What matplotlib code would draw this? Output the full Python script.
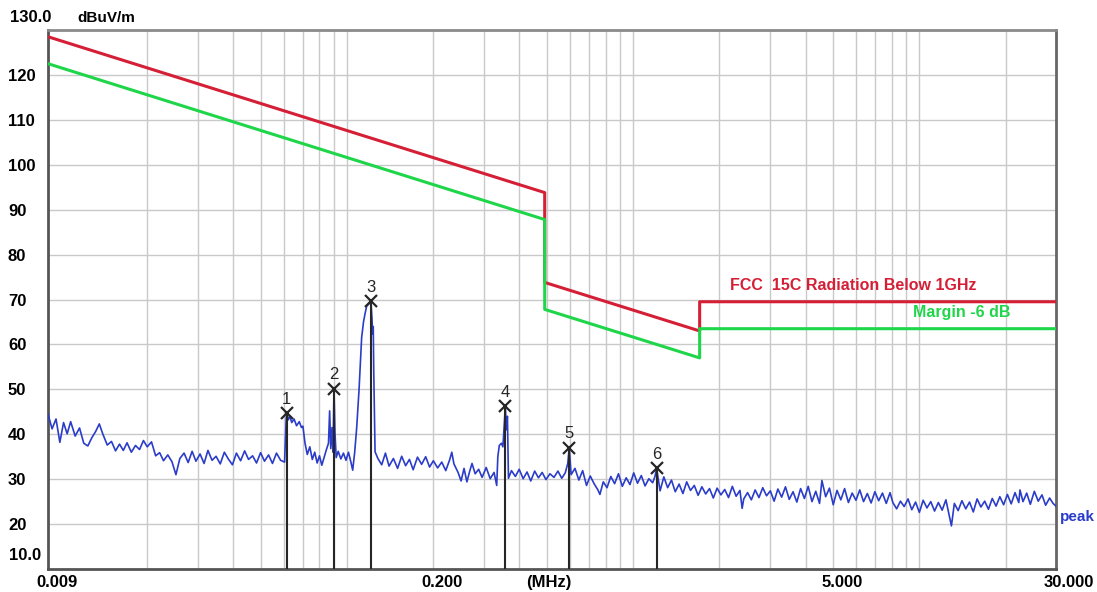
import matplotlib
matplotlib.use("Agg")
import matplotlib.pyplot as plt

# ---------------------------------------------------------------------------
# data (frequency in MHz, level in dBuV/m)
# ---------------------------------------------------------------------------
limit_freq = [0.009, 0.49, 0.49, 1.705, 1.705, 30.0]
limit_level = [128.5, 93.8, 73.8, 63.0, 69.5, 69.5]
margin_db = 6.0

trace_freq = [
    0.0090, 0.0093, 0.0096, 0.0099, 0.0102, 0.0105, 0.0108, 0.0112, 0.0116, 0.0120,
    0.0124, 0.0128, 0.0132, 0.0136, 0.0140, 0.0145, 0.0150, 0.0155, 0.0160, 0.0165,
    0.0170, 0.0176, 0.0182, 0.0188, 0.0194, 0.0200, 0.0207, 0.0214, 0.0221, 0.0228,
    0.0236, 0.0244, 0.0252, 0.0260, 0.0269, 0.0278, 0.0287, 0.0296, 0.0306, 0.0316,
    0.0326, 0.0337, 0.0348, 0.0360, 0.0372, 0.0384, 0.0397, 0.0410, 0.0424, 0.0438,
    0.0452, 0.0467, 0.0482, 0.0498, 0.0514, 0.0531, 0.0548, 0.0566, 0.0585, 0.0604,
    0.0612, 0.0615, 0.0622, 0.0630, 0.0640, 0.0652, 0.0665, 0.0680, 0.0692, 0.0700,
    0.0712, 0.0725, 0.0740, 0.0755, 0.0770, 0.0785, 0.0800, 0.0815, 0.0830, 0.0845,
    0.0860, 0.0868, 0.0876, 0.0885, 0.0892, 0.0899, 0.0906, 0.0915, 0.0930, 0.0950,
    0.0970, 0.0990, 0.1010, 0.1030, 0.1045, 0.1062, 0.1079, 0.1100, 0.1123, 0.1140,
    0.1153, 0.1169, 0.1190, 0.1210, 0.1220, 0.1227, 0.1233, 0.1238, 0.1251, 0.128,
    0.132, 0.136, 0.140, 0.145, 0.150, 0.155, 0.160, 0.165, 0.170, 0.176,
    0.182, 0.188, 0.194, 0.200, 0.207, 0.214, 0.221, 0.228, 0.232, 0.236,
    0.244, 0.250, 0.256, 0.262, 0.268, 0.273, 0.280, 0.288, 0.296, 0.306,
    0.316, 0.326, 0.333, 0.336, 0.340, 0.346, 0.350, 0.354, 0.357, 0.360,
    0.363, 0.366, 0.375, 0.387, 0.399, 0.412, 0.425, 0.438, 0.452, 0.466,
    0.480, 0.495, 0.511, 0.528, 0.545, 0.562, 0.578, 0.590, 0.597, 0.606,
    0.625, 0.645, 0.665, 0.686, 0.707, 0.729, 0.752, 0.764, 0.785, 0.809,
    0.834, 0.860, 0.887, 0.915, 0.944, 0.973, 1.003, 1.034, 1.066, 1.099,
    1.133, 1.168, 1.190, 1.206, 1.222, 1.240, 1.278, 1.318, 1.359, 1.401,
    1.445, 1.490, 1.536, 1.584, 1.633, 1.684, 1.736, 1.790, 1.846, 1.903,
    1.962, 2.023, 2.086, 2.151, 2.218, 2.287, 2.358, 2.400, 2.431, 2.507,
    2.585, 2.665, 2.748, 2.833, 2.921, 3.011, 3.104, 3.200, 3.299, 3.401,
    3.506, 3.615, 3.727, 3.842, 3.961, 4.084, 4.210, 4.340, 4.474, 4.560,
    4.700, 4.846, 4.996, 5.150, 5.310, 5.474, 5.644, 5.818, 5.998, 6.184,
    6.375, 6.572, 6.776, 6.985, 7.201, 7.424, 7.654, 7.890, 8.070, 8.32,
    8.58, 8.84, 9.12, 9.40, 9.69, 9.99, 10.30, 10.62, 10.95, 11.29,
    11.64, 12.00, 12.37, 12.62, 12.93, 13.24, 13.65, 14.07, 14.51, 14.96,
    15.42, 15.90, 16.39, 16.90, 17.42, 17.96, 18.52, 19.09, 19.68, 20.29,
    20.92, 21.57, 22.24, 22.45, 23.0, 23.7, 24.4, 25.2, 26.0, 26.8,
    27.6, 28.5, 29.3, 30.0,
]
trace_level = [
    44.5, 41.2, 43.4, 38.2, 42.6, 40.1, 42.8, 39.6, 41.4, 38.0,
    37.4, 39.2, 40.6, 42.3, 40.0, 37.6, 38.4, 36.3, 37.8, 36.4,
    38.1, 36.0, 37.5, 36.6, 38.6, 37.2, 38.3, 35.2, 35.9, 34.1,
    35.4, 33.9, 31.0, 34.6, 35.8, 33.7, 36.2, 34.0, 35.6, 33.5,
    36.4, 34.2, 35.1, 33.4, 36.0, 34.5, 33.2, 35.8, 34.1, 36.3,
    34.4, 35.2, 33.6, 35.9, 34.0, 35.4, 33.5, 35.8, 34.2, 33.8,
    43.5, 44.7, 43.2, 44.0, 42.6, 43.4, 41.9, 42.8, 41.5, 41.8,
    38.0, 35.5, 37.2, 34.4, 36.0, 33.6, 35.2, 33.1, 34.8, 36.5,
    38.0, 45.2, 36.8, 41.5, 36.0, 50.1, 40.5, 34.8, 36.2, 34.5,
    35.8, 34.2, 36.0, 33.8, 32.0, 36.0, 41.4, 50.0, 61.5, 65.0,
    66.7, 68.5, 69.0, 69.6, 66.0, 62.3, 64.0, 54.0, 36.1, 34.6,
    33.2, 35.8, 32.9, 34.6, 32.4, 35.1, 33.0, 34.4, 32.1, 34.9,
    33.3, 35.0, 32.7, 34.1, 32.5, 33.8, 31.9, 34.3, 36.0, 33.4,
    31.5, 29.6, 32.4, 29.4, 31.8, 33.5, 31.2, 32.2, 30.4, 32.6,
    30.1, 31.5, 28.6, 35.0, 37.5, 38.0, 37.2, 42.5, 46.2, 41.0,
    44.0, 30.2, 31.9, 30.6, 32.2, 30.1, 31.6, 29.6, 31.8, 30.3,
    31.5, 29.9, 31.2, 30.4, 31.8, 30.2, 31.4, 33.5, 37.0, 31.0,
    32.4, 29.8, 31.9, 28.6, 30.7, 29.0, 27.6, 26.6, 29.4, 28.1,
    30.6, 29.0, 31.2, 28.4, 30.3, 28.8, 31.4, 29.1, 30.8, 28.5,
    30.1, 29.2, 30.6, 32.4, 30.0, 27.4, 30.5, 28.1, 29.8, 27.2,
    28.9, 26.8, 29.4, 27.5, 28.6, 26.4, 28.3, 26.7, 27.9, 25.8,
    28.0, 26.5, 27.7, 25.9, 28.4, 26.2, 27.5, 23.5, 25.6, 27.0,
    25.4, 27.6, 25.9, 28.1, 26.3, 27.4, 25.1, 27.8, 26.0, 28.3,
    25.5, 27.2, 24.9, 27.9, 25.7, 28.4, 25.0, 27.3, 24.6, 29.7,
    26.1, 28.0, 24.3, 27.5, 25.4, 27.9, 24.8, 26.9, 25.3, 27.6,
    25.0, 26.8, 24.7, 27.2, 25.2, 26.9, 24.6, 27.0, 24.8, 23.4,
    25.1, 23.9, 25.6, 23.2, 24.9, 22.6, 25.3, 23.6, 25.0, 22.9,
    24.8, 23.1, 25.4, 22.8, 19.6, 24.6, 23.0, 25.2, 23.4, 24.9,
    22.7, 25.6, 23.8, 25.1, 23.3, 25.7, 24.0, 26.1, 24.3, 26.6,
    24.5, 27.0, 24.8, 27.6, 25.0, 26.9, 24.4, 27.3, 25.1, 26.5,
    24.2, 25.8, 24.6, 24.0,
]

marker_ids = ["1", "2", "3", "4", "5", "6"]
marker_freq = [0.0615, 0.0899, 0.1210, 0.357, 0.597, 1.206]
marker_level = [44.7, 50.1, 69.6, 46.2, 37.0, 32.4]

y_ticks = [20, 30, 40, 50, 60, 70, 80, 90, 100, 110, 120]
x_labels = [(0.009, "0.009"), (0.2, "0.200"), (5.0, "5.000"), (30.0, "30.000")]
grid_freq = [k * 10.0 ** e for e in (-2, -1, 0, 1) for k in range(1, 10)]
grid_freq = [f for f in grid_freq if 0.015 < f < 29]

RED = "#d41f36"
GREEN = "#1fd64a"
BLUE = "#2b3cc9"
INK = "#262626"

plt.rcParams["font.family"] = ["Liberation Sans", "DejaVu Sans"]

fig = plt.figure(figsize=(10.97, 5.92), dpi=100)
ax = fig.add_axes([48 / 1097, 23 / 592, 1008 / 1097, 539 / 592])
ax.set_xscale("log")
ax.set_xlim(0.009, 30)
ax.set_ylim(10, 130)

# grid
ax.set_xticks(grid_freq)
ax.set_xticklabels([])
ax.xaxis.set_minor_locator(matplotlib.ticker.NullLocator())
ax.set_yticks(y_ticks)
ax.set_yticklabels([str(v) for v in y_ticks], fontsize=12, fontweight="bold")
for lbl in ax.get_yticklabels():
    lbl.set_horizontalalignment("left")
ax.tick_params(length=0)
ax.tick_params(axis="y", pad=28.8)
ax.grid(True, color="#c9c9c9", lw=1.0)
ax.set_axisbelow(True)

for side, col in (("left", "#555555"), ("bottom", "#555555"),
                  ("top", "#8a8a8a"), ("right", "#666666")):
    ax.spines[side].set_color(col)
    ax.spines[side].set_linewidth(2)

# limit + margin
ax.plot(limit_freq, limit_level, color=RED, lw=2.2, zorder=4)
ax.plot(limit_freq, [v - margin_db for v in limit_level], color=GREEN, lw=2.2, zorder=4)

# measured trace
ax.plot(trace_freq, trace_level, color=BLUE, lw=1.2, zorder=3)

# markers
ax.vlines(marker_freq, 10, marker_level, color=INK, lw=1.5, zorder=5)
ax.plot(marker_freq, marker_level, "x", color=INK, ms=8, mew=1.6, zorder=6)
for f, lv, mid in zip(marker_freq, marker_level, marker_ids):
    ax.annotate(mid, xy=(f, lv), xytext=(0, 14), textcoords="offset pixels",
                ha="center", va="center", fontsize=12, color=INK)

# axis texts
bold = dict(fontsize=12, fontweight="bold", color="black")
ax.annotate("130.0", xy=(0, 130), xycoords=("axes fraction", "data"),
            xytext=(-38, 12), textcoords="offset pixels", ha="left", va="center", **bold)
ax.annotate("dBuV/m", xy=(0, 130), xycoords=("axes fraction", "data"),
            xytext=(29, 12), textcoords="offset pixels", ha="left", va="center",
            fontsize=11, fontweight="bold")
ax.annotate("10.0", xy=(0, 10), xycoords=("axes fraction", "data"),
            xytext=(-39, 14), textcoords="offset pixels", ha="left", va="center", **bold)
for f, txt in x_labels:
    ax.annotate(txt, xy=(f, 0), xycoords=("data", "axes fraction"),
                xytext=(-12, -6), textcoords="offset pixels", ha="left", va="top", **bold)
ax.annotate("(MHz)", xy=(0.5, 0), xycoords=("data", "axes fraction"),
            xytext=(-21, -6), textcoords="offset pixels", ha="left", va="top", **bold)
ax.annotate("peak", xy=(1, 21.5), xycoords=("axes fraction", "data"),
            xytext=(4, 0), textcoords="offset pixels", ha="left", va="center",
            fontsize=11, fontweight="bold", color=BLUE)

ax.text(2.18, 73.2, "FCC  15C Radiation Below 1GHz", color=RED, fontsize=11.5,
        fontweight="bold", va="center", ha="left")
ax.text(9.5, 67.0, "Margin -6 dB", color=GREEN, fontsize=11.5,
        fontweight="bold", va="center", ha="left")

fig.savefig("out.png", dpi=100)
